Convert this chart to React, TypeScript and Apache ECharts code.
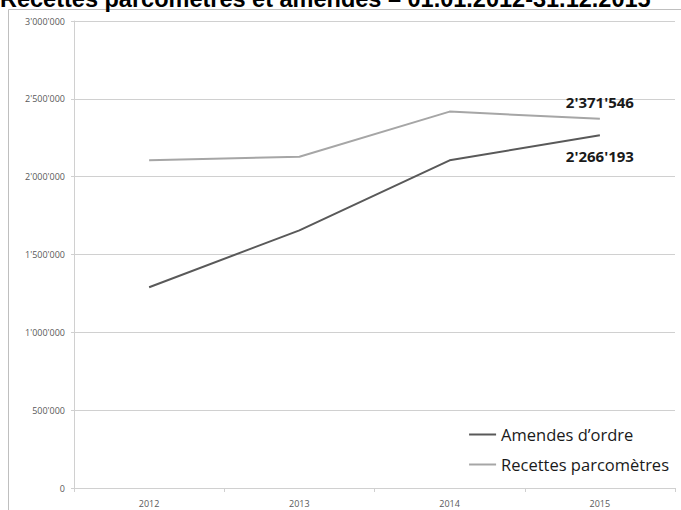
import React, { useEffect, useRef } from "react";
import * as echarts from "echarts";

const TITLE = "Recettes parcomètres et amendes – 01.01.2012-31.12.2015";
const years = ["2012", "2013", "2014", "2015"];
const amendes = [1290000, 1655000, 2105000, 2266193];
const recettes = [2105000, 2128000, 2418000, 2371546];
const seriesNames = ["Amendes d’ordre", "Recettes parcomètres"];
const yTicks = [0, 500000, 1000000, 1500000, 2000000, 2500000, 3000000];

const fmt = (v: number) => String(Math.round(v)).replace(/\B(?=(\d{3})+(?!\d))/g, "'");

export default function App() {
  const ref = useRef<HTMLDivElement>(null);
  useEffect(() => {
    const chart = echarts.init(ref.current!, null, { renderer: "svg" });
    const lastLabel = (pos: string, dist: number) => ({
      show: true,
      position: pos,
      distance: dist,
      fontFamily: "Open Sans",
      fontWeight: "bold",
      fontSize: 15,
      color: "#1a1a1a",
      formatter: (p: any) => (p.dataIndex === years.length - 1 ? fmt(p.value) : ""),
    });
    chart.setOption({
      animation: false,
      backgroundColor: "#ffffff",
      graphic: [
        {
          type: "rect",
          shape: { x: 8.5, y: 9.5, width: 690, height: 520 },
          style: { fill: "none", stroke: "#bfbfbf", lineWidth: 1 },
          silent: true,
          z: -1,
        },
        {
          type: "text",
          x: 0,
          y: 10.5,
          style: {
            text: TITLE,
            font: "bold 23.5px 'Liberation Sans', Arial, sans-serif",
            fill: "#000000",
            verticalAlign: "bottom",
            align: "left",
          },
        },
      ],
      grid: { left: 74, right: 6, top: 21, bottom: 22, containLabel: false },
      legend: {
        orient: "vertical",
        right: 7,
        top: 421,
        itemWidth: 27,
        itemHeight: 2,
        itemGap: 13,
        icon: "rect",
        data: seriesNames,
        textStyle: { fontFamily: "Open Sans", fontSize: 16.5, color: "#1a1a1a" },
      },
      xAxis: {
        type: "category",
        data: years,
        boundaryGap: true,
        axisLine: { show: true, lineStyle: { color: "#d0d0d0", width: 1 } },
        axisTick: { show: true, alignWithLabel: false, length: 4, lineStyle: { color: "#d0d0d0" } },
        axisLabel: { fontFamily: "Open Sans", fontSize: 9, color: "#595959", margin: 11 },
        splitLine: { show: false },
      },
      yAxis: {
        type: "value",
        min: 0,
        max: 3000000,
        interval: 500000,
        axisLine: { show: true, lineStyle: { color: "#d0d0d0", width: 1 } },
        axisTick: { show: true, length: 3, lineStyle: { color: "#d0d0d0" } },
        axisLabel: {
          fontFamily: "Open Sans",
          fontSize: 9,
          color: "#595959",
          margin: 9,
          formatter: (v: number) => (yTicks.includes(v) ? fmt(v) : ""),
        },
        splitLine: { show: true, lineStyle: { color: "#d0d0d0", width: 1 } },
      },
      series: [
        {
          name: seriesNames[0],
          type: "line",
          data: amendes,
          showSymbol: true,
          symbol: "circle",
          symbolSize: 0.1,
          lineStyle: { color: "#595959", width: 2 },
          itemStyle: { color: "#595959" },
          label: lastLabel("bottom", 13),
        },
        {
          name: seriesNames[1],
          type: "line",
          data: recettes,
          showSymbol: true,
          symbol: "circle",
          symbolSize: 0.1,
          lineStyle: { color: "#a6a6a6", width: 2 },
          itemStyle: { color: "#a6a6a6" },
          label: lastLabel("top", 9),
        },
      ],
    });
    return () => chart.dispose();
  }, []);
  return (
    <div
      ref={ref}
      style={{ position: "fixed", left: 0, top: 0, width: 681, height: 510 }}
    />
  );
}
